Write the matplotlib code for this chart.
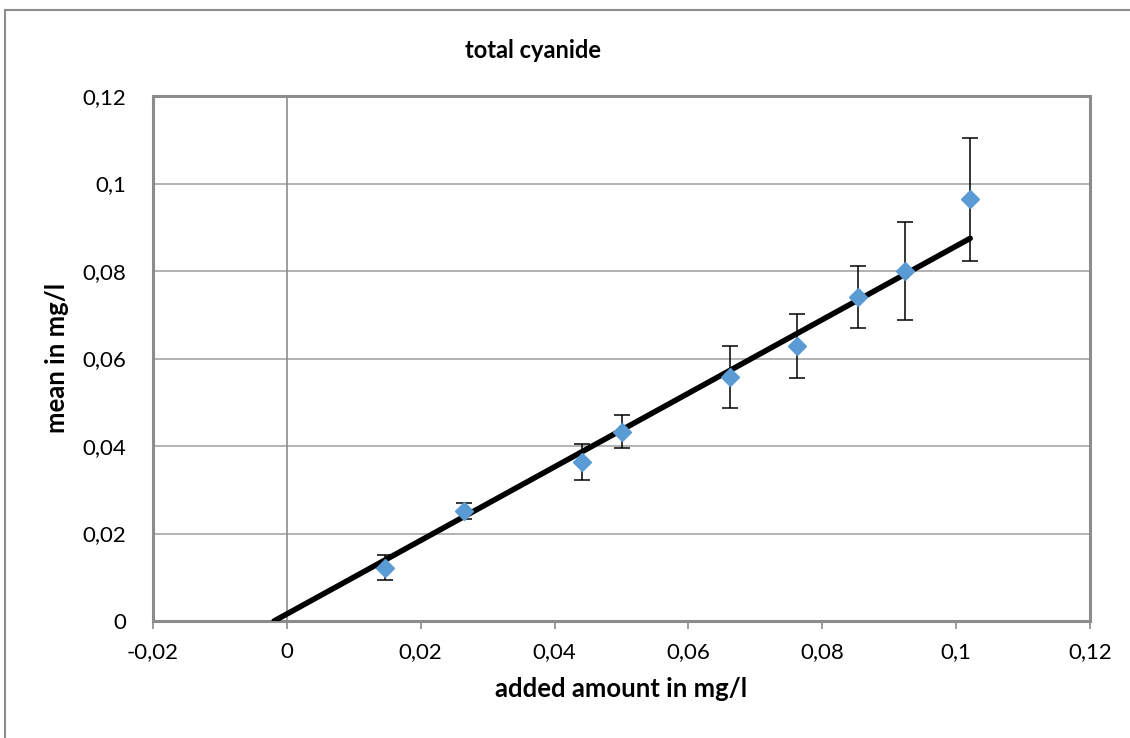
import numpy as np
import matplotlib
matplotlib.use("Agg")
import matplotlib.pyplot as plt
from matplotlib.ticker import FuncFormatter, MultipleLocator
from matplotlib.patches import Rectangle

# added amount vs. measured mean, with standard deviation
added = [0.0146, 0.0265, 0.0441, 0.0501, 0.0662, 0.0762, 0.0854, 0.0924, 0.1021]
mean = [0.0122, 0.0252, 0.0364, 0.0433, 0.0558, 0.0629, 0.0741, 0.0800, 0.0964]
sd = [0.0028, 0.0018, 0.0041, 0.0037, 0.0071, 0.0073, 0.0071, 0.0113, 0.0140]

# linear trendline as reported by the spreadsheet, extended backwards
trend_slope = 0.841
trend_intercept = 0.0016
backward_forecast = 0.0165

plt.rcParams['font.family'] = ['Lato', 'DejaVu Sans']

fig = plt.figure(figsize=(11.3, 7.38), dpi=100)
W, H = 1130, 738
ax = fig.add_axes([153 / W, 1 - 621 / H, (1090 - 153) / W, (621 - 96) / H])

# chart area border
fig.patches.append(Rectangle((5 / W, -0.1), 1.2, 1 - 10 / H + 0.1, transform=fig.transFigure,
                             fill=False, edgecolor='#8c8c8c', linewidth=1.5))

xt = np.array([min(added) - backward_forecast, max(added)])
ax.plot(xt, trend_slope * xt + trend_intercept, color='black', linewidth=4,
        solid_capstyle='round', zorder=3)

ax.errorbar(added, mean, yerr=sd, fmt='D', color='#5b9bd5', markersize=9,
            ecolor='black', elinewidth=1.1, capsize=5.5, capthick=1.1, zorder=4)

ax.set_xlim(-0.02, 0.12)
ax.set_ylim(0, 0.12)
ax.xaxis.set_major_locator(MultipleLocator(0.02))
ax.yaxis.set_major_locator(MultipleLocator(0.02))
fmt = FuncFormatter(lambda v, p: f"{v:g}".replace('.', ',') if abs(v) > 1e-9 else "0")
ax.xaxis.set_major_formatter(fmt)
ax.yaxis.set_major_formatter(fmt)

ax.grid(axis='y', color='#a6a6a6', linewidth=1.2)
ax.axvline(0, color='#8c8c8c', linewidth=1.2, zorder=1)
ax.set_axisbelow(True)
for s in ax.spines.values():
    s.set_color('#8c8c8c')
    s.set_linewidth(2.2)

ax.tick_params(axis='x', direction='out', length=6, width=1.2, color='#8c8c8c',
               labelsize=16, pad=9)
ax.tick_params(axis='y', length=0, labelsize=16, pad=19)

ax.set_xlabel('added amount in mg/l', fontsize=18.5, fontweight='bold', labelpad=11)
fig.text(57 / W, 1 - 358 / H, 'mean in mg/l', rotation=90, ha='center', va='center',
         fontsize=18.5, fontweight='bold')
fig.text(533 / W, 1 - 50 / H, 'total cyanide', ha='center', va='center',
         fontsize=17, fontweight='bold')

fig.savefig('out.png', dpi=100, facecolor='white')
